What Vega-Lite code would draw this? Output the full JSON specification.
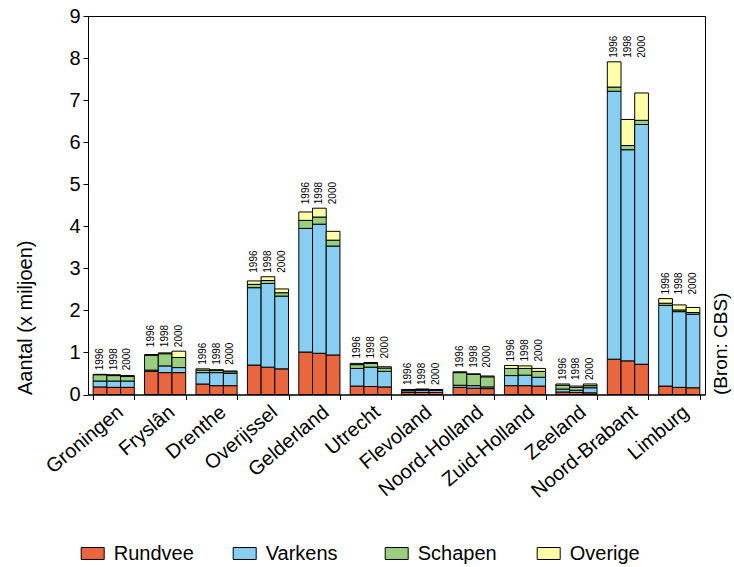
{
  "$schema": "https://vega.github.io/schema/vega-lite/v6.json",
  "width": 617,
  "height": 378.5,
  "autosize": "none",
  "padding": {"left": 88, "top": 16, "right": 29, "bottom": 172.5},
  "background": "white",
  "config": {
    "font": "Liberation Sans",
    "view": {"stroke": "black", "strokeWidth": 1},
    "axis": {"domainColor": "black", "tickColor": "black", "labelColor": "black", "titleColor": "black", "grid": false, "labelFont": "Liberation Sans", "titleFont": "Liberation Sans", "titleFontWeight": "normal"},
    "legend": {"labelFont": "Liberation Sans", "labelColor": "black"}
  },
  "data": {
    "values": [
      {"provincie": "Groningen", "jaar": "1996", "Rundvee": 0.18, "Varkens": 0.14, "Schapen": 0.15, "Overige": 0.01},
      {"provincie": "Groningen", "jaar": "1998", "Rundvee": 0.17, "Varkens": 0.15, "Schapen": 0.13, "Overige": 0.02},
      {"provincie": "Groningen", "jaar": "2000", "Rundvee": 0.17, "Varkens": 0.15, "Schapen": 0.11, "Overige": 0.02},
      {"provincie": "Fryslân", "jaar": "1996", "Rundvee": 0.55, "Varkens": 0.03, "Schapen": 0.35, "Overige": 0.02},
      {"provincie": "Fryslân", "jaar": "1998", "Rundvee": 0.52, "Varkens": 0.16, "Schapen": 0.29, "Overige": 0.02},
      {"provincie": "Fryslân", "jaar": "2000", "Rundvee": 0.52, "Varkens": 0.12, "Schapen": 0.24, "Overige": 0.15},
      {"provincie": "Drenthe", "jaar": "1996", "Rundvee": 0.25, "Varkens": 0.27, "Schapen": 0.06, "Overige": 0.03},
      {"provincie": "Drenthe", "jaar": "1998", "Rundvee": 0.21, "Varkens": 0.31, "Schapen": 0.05, "Overige": 0.02},
      {"provincie": "Drenthe", "jaar": "2000", "Rundvee": 0.21, "Varkens": 0.29, "Schapen": 0.04, "Overige": 0.02},
      {"provincie": "Overijssel", "jaar": "1996", "Rundvee": 0.70, "Varkens": 1.84, "Schapen": 0.08, "Overige": 0.08},
      {"provincie": "Overijssel", "jaar": "1998", "Rundvee": 0.65, "Varkens": 1.99, "Schapen": 0.07, "Overige": 0.09},
      {"provincie": "Overijssel", "jaar": "2000", "Rundvee": 0.61, "Varkens": 1.73, "Schapen": 0.08, "Overige": 0.09},
      {"provincie": "Gelderland", "jaar": "1996", "Rundvee": 1.01, "Varkens": 2.94, "Schapen": 0.19, "Overige": 0.20},
      {"provincie": "Gelderland", "jaar": "1998", "Rundvee": 0.98, "Varkens": 3.07, "Schapen": 0.17, "Overige": 0.21},
      {"provincie": "Gelderland", "jaar": "2000", "Rundvee": 0.94, "Varkens": 2.59, "Schapen": 0.14, "Overige": 0.21},
      {"provincie": "Utrecht", "jaar": "1996", "Rundvee": 0.20, "Varkens": 0.42, "Schapen": 0.09, "Overige": 0.03},
      {"provincie": "Utrecht", "jaar": "1998", "Rundvee": 0.19, "Varkens": 0.46, "Schapen": 0.09, "Overige": 0.02},
      {"provincie": "Utrecht", "jaar": "2000", "Rundvee": 0.18, "Varkens": 0.37, "Schapen": 0.08, "Overige": 0.03},
      {"provincie": "Flevoland", "jaar": "1996", "Rundvee": 0.05, "Varkens": 0.04, "Schapen": 0.02, "Overige": 0.01},
      {"provincie": "Flevoland", "jaar": "1998", "Rundvee": 0.05, "Varkens": 0.05, "Schapen": 0.02, "Overige": 0.01},
      {"provincie": "Flevoland", "jaar": "2000", "Rundvee": 0.05, "Varkens": 0.05, "Schapen": 0.01, "Overige": 0.01},
      {"provincie": "Noord-Holland", "jaar": "1996", "Rundvee": 0.17, "Varkens": 0.05, "Schapen": 0.30, "Overige": 0.02},
      {"provincie": "Noord-Holland", "jaar": "1998", "Rundvee": 0.15, "Varkens": 0.06, "Schapen": 0.27, "Overige": 0.01},
      {"provincie": "Noord-Holland", "jaar": "2000", "Rundvee": 0.14, "Varkens": 0.04, "Schapen": 0.24, "Overige": 0.02},
      {"provincie": "Zuid-Holland", "jaar": "1996", "Rundvee": 0.21, "Varkens": 0.24, "Schapen": 0.17, "Overige": 0.07},
      {"provincie": "Zuid-Holland", "jaar": "1998", "Rundvee": 0.21, "Varkens": 0.25, "Schapen": 0.16, "Overige": 0.06},
      {"provincie": "Zuid-Holland", "jaar": "2000", "Rundvee": 0.20, "Varkens": 0.21, "Schapen": 0.14, "Overige": 0.07},
      {"provincie": "Zeeland", "jaar": "1996", "Rundvee": 0.06, "Varkens": 0.07, "Schapen": 0.09, "Overige": 0.03},
      {"provincie": "Zeeland", "jaar": "1998", "Rundvee": 0.05, "Varkens": 0.05, "Schapen": 0.07, "Overige": 0.03},
      {"provincie": "Zeeland", "jaar": "2000", "Rundvee": 0.04, "Varkens": 0.12, "Schapen": 0.05, "Overige": 0.04},
      {"provincie": "Noord-Brabant", "jaar": "1996", "Rundvee": 0.84, "Varkens": 6.37, "Schapen": 0.10, "Overige": 0.60},
      {"provincie": "Noord-Brabant", "jaar": "1998", "Rundvee": 0.80, "Varkens": 5.02, "Schapen": 0.10, "Overige": 0.62},
      {"provincie": "Noord-Brabant", "jaar": "2000", "Rundvee": 0.72, "Varkens": 5.70, "Schapen": 0.10, "Overige": 0.65},
      {"provincie": "Limburg", "jaar": "1996", "Rundvee": 0.20, "Varkens": 1.92, "Schapen": 0.05, "Overige": 0.11},
      {"provincie": "Limburg", "jaar": "1998", "Rundvee": 0.17, "Varkens": 1.80, "Schapen": 0.04, "Overige": 0.12},
      {"provincie": "Limburg", "jaar": "2000", "Rundvee": 0.16, "Varkens": 1.75, "Schapen": 0.04, "Overige": 0.12}
    ]
  },
  "transform": [
    {"fold": ["Rundvee", "Varkens", "Schapen", "Overige"], "as": ["soort", "aantal"]},
    {"window": [{"op": "row_number", "as": "volgorde"}], "groupby": ["provincie", "jaar"]}
  ],
  "layer": [
    {
      "mark": {"type": "bar", "stroke": "black", "strokeWidth": 1},
      "encoding": {
        "x": {
          "field": "provincie", "type": "nominal", "sort": null,
          "scale": {"paddingInner": 0.2, "paddingOuter": 0.1},
          "axis": {"title": null, "labelAngle": -40, "labelFontSize": 20, "tickBand": "extent", "tickSize": 5, "labelPadding": 2}
        },
        "xOffset": {"field": "jaar", "type": "nominal", "scale": {"paddingInner": 0, "paddingOuter": 0}},
        "y": {
          "field": "aantal", "type": "quantitative", "stack": "zero",
          "scale": {"domain": [0, 9], "nice": false},
          "axis": {"values": [0, 1, 2, 3, 4, 5, 6, 7, 8, 9], "title": "Aantal (x miljoen)", "titleFontSize": 20, "labelFontSize": 20, "titleAnchor": "start", "tickSize": 5, "labelPadding": 3, "titlePadding": 33}
        },
        "order": {"field": "volgorde", "type": "quantitative", "sort": "ascending"},
        "color": {
          "field": "soort", "type": "nominal",
          "sort": ["Rundvee", "Varkens", "Schapen", "Overige"],
          "scale": {"domain": ["Rundvee", "Varkens", "Schapen", "Overige"], "range": ["#E9673F", "#88CDF2", "#9ACF80", "#FFFFA8"]},
          "legend": {
            "title": null, "orient": "none", "direction": "horizontal", "columns": 4, "gridAlign": "all",
            "legendX": -7.3, "legendY": 525.5, "padding": 0,
            "columnPadding": 36, "labelFontSize": 20, "labelOffset": 9,
            "symbolType": "M-1,-0.52H1V0.52H-1Z", "symbolSize": 529,
            "symbolStrokeColor": "black", "symbolStrokeWidth": 1, "symbolOpacity": 1
          }
        }
      }
    },
    {
      "transform": [
        {"aggregate": [{"op": "sum", "field": "aantal", "as": "totaal"}], "groupby": ["provincie", "jaar"]},
        {"joinaggregate": [{"op": "max", "field": "totaal", "as": "maxtotaal"}], "groupby": ["provincie"]}
      ],
      "mark": {"type": "text", "angle": 270, "align": "left", "baseline": "middle", "dx": 4, "fontSize": 10, "color": "black"},
      "encoding": {
        "x": {"field": "provincie", "type": "nominal", "sort": null},
        "xOffset": {"field": "jaar", "type": "nominal"},
        "y": {
          "field": "maxtotaal", "type": "quantitative",
          "axis": {"orient": "right", "title": "(Bron: CBS)", "titleFontSize": 19, "labels": false, "ticks": false, "domain": false, "titleAngle": 270, "titleAnchor": "start", "titlePadding": 25}
        },
        "text": {"field": "jaar"}
      }
    }
  ],
  "resolve": {"axis": {"y": "independent"}}
}
